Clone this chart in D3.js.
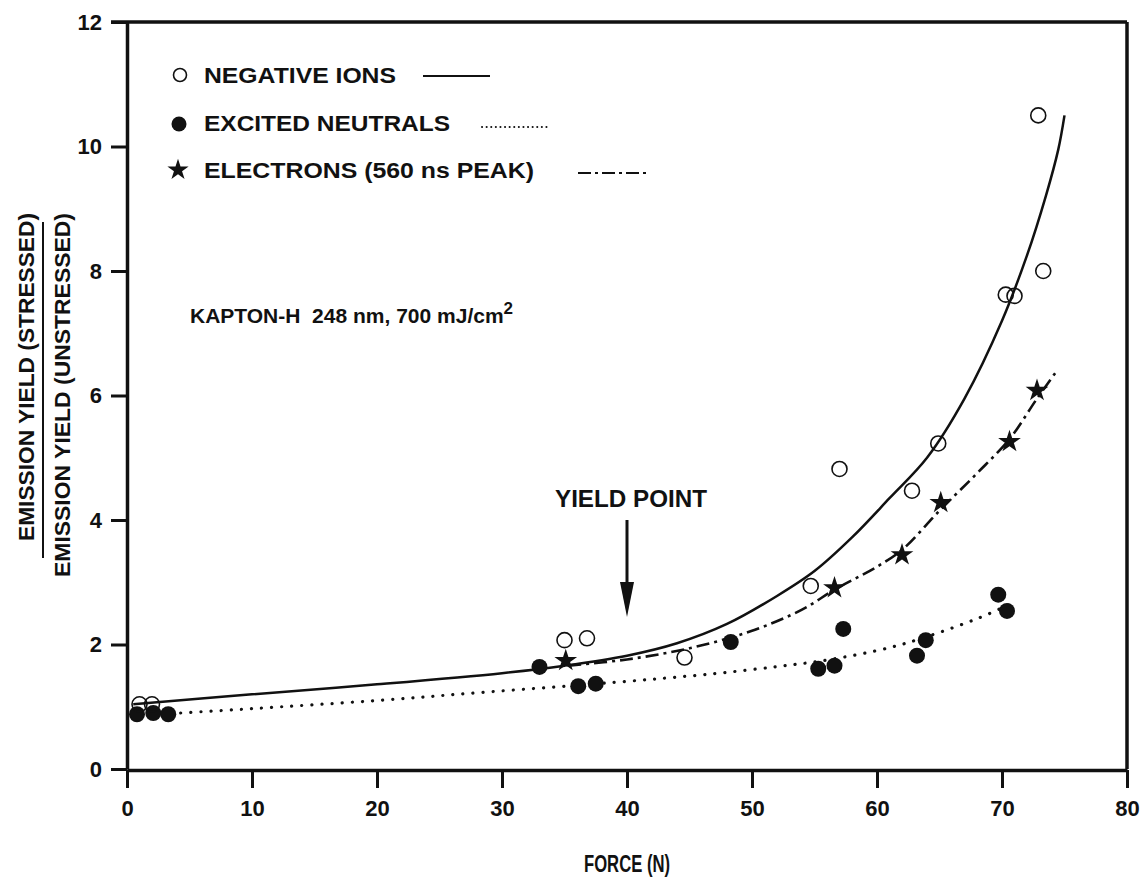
<!DOCTYPE html>
<html>
<head>
<meta charset="utf-8">
<script src="https://cdn.jsdelivr.net/npm/d3@7"></script>
<style>
  body { margin: 0; background: #fff; }
  text { font-family: "Liberation Sans", Arial, sans-serif; font-weight: bold; fill: #111; }
</style>
</head>
<body>
<svg id="chart" width="1140" height="884"></svg>
<script>
// measured points (force N, yield ratio)
const ionForce = [1.0, 2.0, 35.0, 36.8, 44.6, 54.7, 57.0, 62.8, 64.9, 70.3, 71.0, 73.3, 72.9]
const ionYield = [1.04, 1.04, 2.07, 2.10, 1.79, 2.94, 4.82, 4.47, 5.23, 7.62, 7.60, 8.00, 10.50]

const neutralForce = [0.8, 2.1, 3.3, 33.0, 36.1, 37.5, 48.3, 55.3, 56.6, 57.3, 63.2, 63.9, 69.7, 70.4]
const neutralYield = [0.88, 0.90, 0.88, 1.64, 1.33, 1.37, 2.04, 1.61, 1.66, 2.25, 1.82, 2.07, 2.80, 2.54]

const electronForce = [35.1, 56.6, 62.0, 65.1, 70.6, 72.8]
const electronYield = [1.74, 2.91, 3.44, 4.28, 5.26, 6.08]

// fitted curves
const ionFitForce = [0.5, 10, 20, 30, 35, 40, 44, 48, 52, 55, 58, 61, 64, 67, 70, 72, 73.5, 74.5, 75]
const ionFitYield = [1.04, 1.2, 1.36, 1.54, 1.66, 1.82, 2.02, 2.33, 2.78, 3.18, 3.72, 4.35, 5.0, 5.95, 7.2, 8.25, 9.2, 9.95, 10.5]

const neutralFitForce = [3.5, 10, 20, 29, 38.9, 46.9, 52.2, 56, 61, 64.2, 68.2, 70.9]
const neutralFitYield = [0.89, 0.97, 1.1, 1.24, 1.39, 1.53, 1.65, 1.75, 1.95, 2.14, 2.43, 2.67]

const electronFitForce = [35.3, 40, 45, 50, 54, 56.6, 60, 62, 65, 68, 70.6, 72.8, 74.4]
const electronFitYield = [1.66, 1.76, 1.94, 2.22, 2.56, 2.88, 3.25, 3.52, 4.15, 4.75, 5.3, 5.95, 6.4]

const xTicks = [0, 10, 20, 30, 40, 50, 60, 70, 80]
const yTicks = [0, 2, 4, 6, 8, 10, 12]

const legendLabels = ['NEGATIVE IONS', 'EXCITED NEUTRALS', 'ELECTRONS (560 ns PEAK)']

const svg = d3.select('#chart')
const plotLeft = 127, plotRight = 1127, plotTop = 22, plotBottom = 769

const x = d3.scaleLinear().domain([0, 80]).range([plotLeft, plotRight])
const y = d3.scaleLinear().domain([0, 12]).range([plotBottom, plotTop])

// frame top + right
svg.append('line').attr('x1', 111).attr('x2', plotRight).attr('y1', plotTop).attr('y2', plotTop)
  .attr('stroke', '#111').attr('stroke-width', 3.5)
svg.append('line').attr('x1', plotRight).attr('x2', plotRight).attr('y1', plotTop).attr('y2', plotBottom)
  .attr('stroke', '#111').attr('stroke-width', 3.5)

// axes
const yAxis = svg.append('g')
  .attr('transform', `translate(${plotLeft},0)`)
  .call(d3.axisLeft(y).tickValues(yTicks).tickSize(16).tickSizeOuter(0).tickPadding(9))
const xAxis = svg.append('g')
  .attr('transform', `translate(0,${plotBottom + 1})`)
  .call(d3.axisBottom(x).tickValues(xTicks).tickSize(18).tickSizeOuter(0).tickPadding(12))

for (const ax of [yAxis, xAxis]) {
  ax.select('.domain').attr('stroke', '#111').attr('stroke-width', 3.5)
  ax.selectAll('.tick line').attr('stroke', '#111').attr('stroke-width', 3)
  ax.selectAll('.tick text')
    .attr('font-family', '"Liberation Sans", Arial, sans-serif')
    .attr('font-weight', 'bold').attr('font-size', 22).attr('fill', '#111')
}

// fit curves
const mkLine = d3.line().x(d => x(d[0])).y(d => y(d[1])).curve(d3.curveCatmullRom.alpha(0.5))
const zip = (a, b) => a.map((v, i) => [v, b[i]])

svg.append('path').datum(zip(ionFitForce, ionFitYield))
  .attr('d', mkLine).attr('fill', 'none').attr('stroke', '#111').attr('stroke-width', 2.5)
svg.append('path').datum(zip(neutralFitForce, neutralFitYield))
  .attr('d', mkLine).attr('fill', 'none').attr('stroke', '#111').attr('stroke-width', 3.2)
  .attr('stroke-linecap', 'round').attr('stroke-dasharray', '0.1,10')
svg.append('path').datum(zip(electronFitForce, electronFitYield))
  .attr('d', mkLine).attr('fill', 'none').attr('stroke', '#111').attr('stroke-width', 2.6)
  .attr('stroke-dasharray', '13,5,3,5')

// markers
const star = d3.symbol().type(d3.symbolStar)

svg.selectAll('circle.neutral').data(zip(neutralForce, neutralYield)).enter()
  .append('circle').attr('class', 'neutral')
  .attr('cx', d => x(d[0])).attr('cy', d => y(d[1])).attr('r', 8).attr('fill', '#111')

svg.selectAll('circle.ion').data(zip(ionForce, ionYield)).enter()
  .append('circle').attr('class', 'ion')
  .attr('cx', d => x(d[0])).attr('cy', d => y(d[1])).attr('r', 7.5)
  .attr('fill', 'none').attr('stroke', '#111').attr('stroke-width', 1.6)

svg.selectAll('path.electron').data(zip(electronForce, electronYield)).enter()
  .append('path').attr('class', 'electron')
  .attr('transform', d => `translate(${x(d[0])},${y(d[1])})`)
  .attr('d', star.size(160)()).attr('fill', '#111')

// legend
const lg = svg.append('g')
lg.append('circle').attr('cx', 180).attr('cy', 75).attr('r', 6.5)
  .attr('fill', 'none').attr('stroke', '#111').attr('stroke-width', 1.6)
lg.append('circle').attr('cx', 179).attr('cy', 124).attr('r', 7.5).attr('fill', '#111')
lg.append('path').attr('transform', 'translate(178,170)').attr('d', star.size(140)()).attr('fill', '#111')

const legendY = [83, 131, 178]
const legendW = [192, 246, 330]
lg.selectAll('text.leg').data(legendLabels).enter()
  .append('text').attr('class', 'leg')
  .attr('x', 204).attr('y', (d, i) => legendY[i])
  .attr('font-size', 22).attr('textLength', (d, i) => legendW[i])
  .attr('lengthAdjust', 'spacingAndGlyphs')
  .text(d => d)

lg.append('line').attr('x1', 423).attr('x2', 490).attr('y1', 76).attr('y2', 76)
  .attr('stroke', '#111').attr('stroke-width', 2.2)
lg.append('line').attr('x1', 482).attr('x2', 548).attr('y1', 127).attr('y2', 127)
  .attr('stroke', '#111').attr('stroke-width', 2).attr('stroke-linecap', 'round')
  .attr('stroke-dasharray', '0.1,4.5')
lg.append('line').attr('x1', 578).attr('x2', 650).attr('y1', 173).attr('y2', 173)
  .attr('stroke', '#111').attr('stroke-width', 2.2).attr('stroke-dasharray', '13,4,3,4')

// sample note
const note = svg.append('text').attr('x', 190).attr('y', 323).attr('font-size', 21)
  .style('white-space', 'pre')
note.append('tspan').text('KAPTON-H  248 nm, 700 mJ/cm')
note.append('tspan').attr('dy', -9).attr('font-size', 17).text('2')

// yield point annotation
svg.append('text').attr('x', x(40) + 4).attr('y', 507).attr('text-anchor', 'middle')
  .attr('font-size', 23).attr('textLength', 152).attr('lengthAdjust', 'spacingAndGlyphs')
  .text('YIELD POINT')
svg.append('line').attr('x1', x(40)).attr('x2', x(40)).attr('y1', 520).attr('y2', 590)
  .attr('stroke', '#111').attr('stroke-width', 3)
svg.append('path')
  .attr('d', `M${x(40) - 7},582 L${x(40) + 7},582 L${x(40)},617 Z`).attr('fill', '#111')

// axis titles
svg.append('text').attr('x', x(40)).attr('y', 872).attr('text-anchor', 'middle')
  .attr('font-size', 24).attr('textLength', 86).attr('lengthAdjust', 'spacingAndGlyphs')
  .text('FORCE (N)')

const yt = svg.append('g')
yt.append('text').attr('transform', 'translate(34,213) rotate(-90)').attr('text-anchor', 'end')
  .attr('font-size', 22).attr('textLength', 328).attr('lengthAdjust', 'spacingAndGlyphs')
  .text('EMISSION YIELD (STRESSED)')
yt.append('line').attr('x1', 43).attr('x2', 43).attr('y1', 222).attr('y2', 558)
  .attr('stroke', '#111').attr('stroke-width', 2)
yt.append('text').attr('transform', 'translate(70,213) rotate(-90)').attr('text-anchor', 'end')
  .attr('font-size', 22).attr('textLength', 364).attr('lengthAdjust', 'spacingAndGlyphs')
  .text('EMISSION YIELD (UNSTRESSED)')
</script>
</body>
</html>
